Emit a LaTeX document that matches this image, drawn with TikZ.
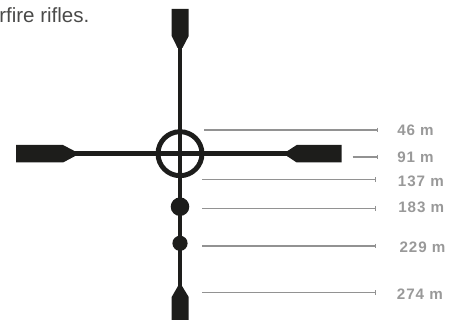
\documentclass[tikz,border=0pt]{standalone}
\usepackage{fontspec}
\usepackage{tikz}
\usetikzlibrary{arrows.meta}
\setmainfont{Liberation Sans}
\newfontfamily\rangefont[LetterSpace=6]{Liberation Sans}
\definecolor{reticle}{HTML}{1D1D1B}
\definecolor{leader}{HTML}{929292}
\definecolor{rangetext}{HTML}{999999}
\definecolor{notetext}{HTML}{4A4A49}

\begin{document}
\begin{tikzpicture}[
  x=0.025cm, y=-0.025cm,
  wire/.style={draw=reticle, line width=3.4pt},
  blade/.style={fill=reticle},
  holdover/.style={circle, fill=reticle, inner sep=0pt},
  leaderline/.style={draw=leader, line width=0.95pt, -{Bar[width=3.4pt,line width=0.6pt]}},
  rangelabel/.style={anchor=west, inner sep=0pt, text=rangetext, font=\fontsize{10.8}{12}\rangefont\bfseries},
  note/.style={anchor=base west, inner sep=0pt, text=notetext, font=\fontsize{14.6}{16}\selectfont},
]

\useasboundingbox (0, 0) rectangle (451, 320);

\node[note] (n0) at (-1, 22.7) {rfire rifles.};

\coordinate (top) at (180, 48);
\coordinate (bottom) at (180, 286);
\coordinate (left) at (75, 153.7);
\coordinate (right) at (287, 153.7);
\coordinate (c) at (180, 153.7);

\draw[wire] (top) -- (bottom);
\draw[wire] (left) -- (right);
\draw[reticle, line width=3.5pt] (c) circle (22);

\fill[blade] (171.7, 9) -- (188.7, 9) -- (188.7, 36) -- (182.4, 48) -- (177.6, 48) -- (171.7, 36) -- cycle;
\fill[blade] (16, 145) -- (63, 145) -- (75, 151.3) -- (75, 156.1) -- (63, 162.5) -- (16, 162.5) -- cycle;
\fill[blade] (341.7, 145) -- (296.7, 145) -- (287, 151.3) -- (287, 156.1) -- (296.7, 162.5) -- (341.7, 162.5) -- cycle;
\fill[blade] (171.7, 320) -- (188.7, 320) -- (188.7, 297) -- (182, 286) -- (178, 286) -- (171.7, 297) -- cycle;

\node[holdover, minimum size=13.2pt] (d183) at (180, 206.7) {};
\node[holdover, minimum size=10.8pt] (d229) at (180, 243.3) {};

\node[rangelabel] (r46) at (397, 130) {46 m};
\node[rangelabel] (r91) at (397, 157) {91 m};
\node[rangelabel] (r137) at (397.7, 181) {137 m};
\node[rangelabel] (r183) at (398, 207.7) {183 m};
\node[rangelabel] (r229) at (399.3, 247.7) {229 m};
\node[rangelabel] (r274) at (396.7, 293.7) {274 m};

\coordinate (a46) at (204, 130);
\coordinate (b46) at (378, 130);
\coordinate (a91) at (352.7, 157);
\coordinate (b91) at (378, 157);
\coordinate (a137) at (202, 179.7);
\coordinate (b137) at (375.7, 179.7);
\coordinate (a183) at (202, 208.3);
\coordinate (b183) at (375.7, 208.3);
\coordinate (a229) at (202, 246);
\coordinate (b229) at (375.7, 246);
\coordinate (a274) at (202, 292.7);
\coordinate (b274) at (375.7, 292.7);

\draw[leaderline] (a46) -- (b46);
\draw[leaderline] (a91) -- (b91);
\draw[leaderline] (a137) -- (b137);
\draw[leaderline] (a183) -- (b183);
\draw[leaderline] (a229) -- (b229);
\draw[leaderline] (a274) -- (b274);

\end{tikzpicture}
\end{document}
